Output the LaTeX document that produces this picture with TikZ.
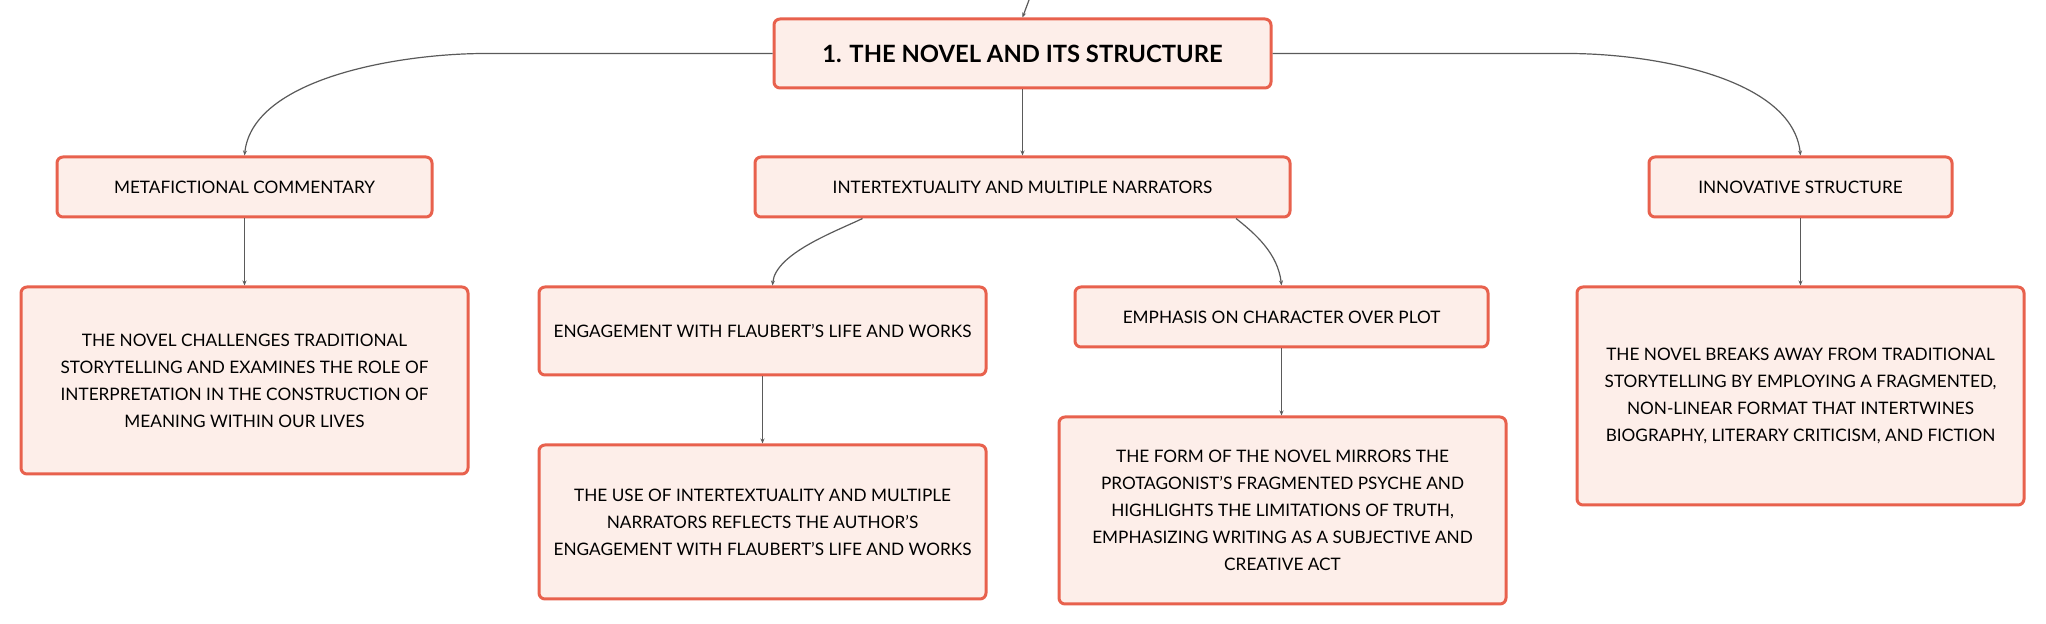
\documentclass[tikz,border=0pt]{standalone}
\usepackage{fontspec}
\setmainfont{Lato}
\usetikzlibrary{arrows.meta}
\definecolor{boxfill}{HTML}{FDEEE9}
\definecolor{boxline}{HTML}{E8614D}
\definecolor{linkgray}{HTML}{5A5A5A}
\tikzset{
  box/.style={draw=boxline, fill=boxfill, line width=1.5pt, rounded corners=3pt,
    align=center, inner sep=0pt, font=\fontsize{8.6}{13.5}\selectfont},
  link/.style={draw=linkgray, line width=0.6pt, -{Stealth[length=2.5pt,width=2pt]}}
}
\begin{document}
\begin{tikzpicture}[x=0.5pt,y=-0.5pt]
\useasboundingbox[fill=white] (0,0) rectangle (2046,624);
\node[box, minimum width=248.5pt, minimum height=34.5pt, font=\fontsize{11.9}{14}\selectfont\bfseries] (root) at (1022.5,53.5) {1. THE NOVEL AND ITS STRUCTURE};
\node[box, minimum width=187.5pt, minimum height=30pt] (meta) at (244.5,187) {METAFICTIONAL COMMENTARY};
\node[box, minimum width=267.5pt, minimum height=30pt] (inter) at (1022.5,187) {INTERTEXTUALITY AND MULTIPLE NARRATORS};
\node[box, minimum width=151.5pt, minimum height=30pt] (innov) at (1800.5,187) {INNOVATIVE STRUCTURE};
\node[box, minimum width=223.5pt, minimum height=93.5pt] (metadesc) at (244.5,380.5) {THE NOVEL CHALLENGES TRADITIONAL\\STORYTELLING AND EXAMINES THE ROLE OF\\INTERPRETATION IN THE CONSTRUCTION OF\\MEANING WITHIN OUR LIVES};
\node[box, minimum width=223.5pt, minimum height=44pt] (flaub) at (762.5,331) {ENGAGEMENT WITH FLAUBERT'S LIFE AND WORKS};
\node[box, minimum width=223.5pt, minimum height=77pt] (flaubdesc) at (762.5,522) {THE USE OF INTERTEXTUALITY AND MULTIPLE\\NARRATORS REFLECTS THE AUTHOR'S\\ENGAGEMENT WITH FLAUBERT'S LIFE AND WORKS};
\node[box, minimum width=206.5pt, minimum height=30pt] (emph) at (1281.5,317) {EMPHASIS ON CHARACTER OVER PLOT};
\node[box, minimum width=223.5pt, minimum height=93.5pt] (emphdesc) at (1282.5,510.5) {THE FORM OF THE NOVEL MIRRORS THE\\PROTAGONIST'S FRAGMENTED PSYCHE AND\\HIGHLIGHTS THE LIMITATIONS OF TRUTH,\\EMPHASIZING WRITING AS A SUBJECTIVE AND\\CREATIVE ACT};
\node[box, minimum width=223.5pt, minimum height=109pt] (innovdesc) at (1800.5,396) {THE NOVEL BREAKS AWAY FROM TRADITIONAL\\STORYTELLING BY EMPLOYING A FRAGMENTED,\\NON-LINEAR FORMAT THAT INTERTWINES\\BIOGRAPHY, LITERARY CRITICISM, AND FICTION};
\coordinate (up) at (1029,0);
\draw[link] (up) -- (root.north);
\draw[link] (root.west) -- ++(-287,0) .. controls +(-87,0) and +(8,-77) .. (meta.north);
\draw[link] (root.east) -- ++(295,0) .. controls +(87,0) and +(-8,-77) .. (innov.north);
\draw[link] (root.south) -- (inter.north);
\draw[link] ([xshift=-80pt]inter.south) .. controls +(-27,13) and +(3,-32) .. ([xshift=5pt]flaub.north);
\draw[link] ([xshift=106.75pt]inter.south) .. controls +(19,15) and +(-3.5,-32) .. (emph.north);
\draw[link] (meta.south) -- (metadesc.north);
\draw[link] (flaub.south) -- (flaubdesc.north);
\draw[link] (emph.south) -- (emph.south |- emphdesc.north);
\draw[link] (innov.south) -- (innovdesc.north);
\end{tikzpicture}
\end{document}
